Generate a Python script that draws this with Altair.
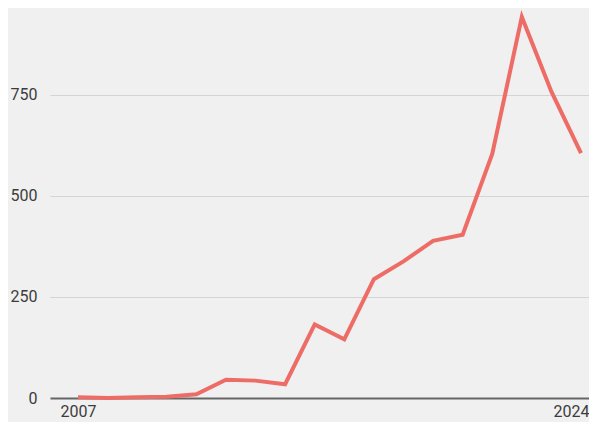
import altair as alt
import pandas as pd

years = list(range(2007, 2025))
values = [2, 0, 2, 3, 9, 45, 43, 34, 182, 145, 294, 338, 389, 404, 604, 943, 758, 606]
y_ticks = [0, 250, 500, 750]
x_ticks = [2007, 2024]

df = pd.DataFrame({"year": years, "value": values})

FONT = "Roboto"

x_axis = alt.Axis(
    values=x_ticks, format="d", title=None, grid=False, ticks=False,
    domain=True, domainColor="#666666", domainWidth=2,
    labelFont=FONT, labelFontSize=16, labelColor="#3c3c3c", labelPadding=5,
    labelFlush=10, labelFlushOffset=8,
)
y_axis = alt.Axis(
    values=y_ticks, title=None, grid=True, gridColor="#d4d4d4",
    gridWidth=1, ticks=False, domain=False,
    labelFont=FONT, labelFontSize=16, labelColor="#3c3c3c", labelPadding=13,
)

chart = (
    alt.Chart(df)
    .mark_line(color="#ee6c66", strokeWidth=4, clip=False)
    .encode(
        x=alt.X("year:Q", scale=alt.Scale(domain=[2006.054, 2024.27], nice=False, zero=False), axis=x_axis),
        y=alt.Y("value:Q", scale=alt.Scale(domain=[0, 965], nice=False), axis=y_axis),
    )
    .properties(
        width=539, height=390,
        autosize=alt.AutoSizeParams(type="none"),
        padding={"left": 42, "top": 0, "right": 0, "bottom": 24},
        background="#f0f0f0",
    )
    .configure_view(stroke=None, fill="#f0f0f0")
)

chart.save("out.html", embed_options={"renderer": "svg", "actions": False})
